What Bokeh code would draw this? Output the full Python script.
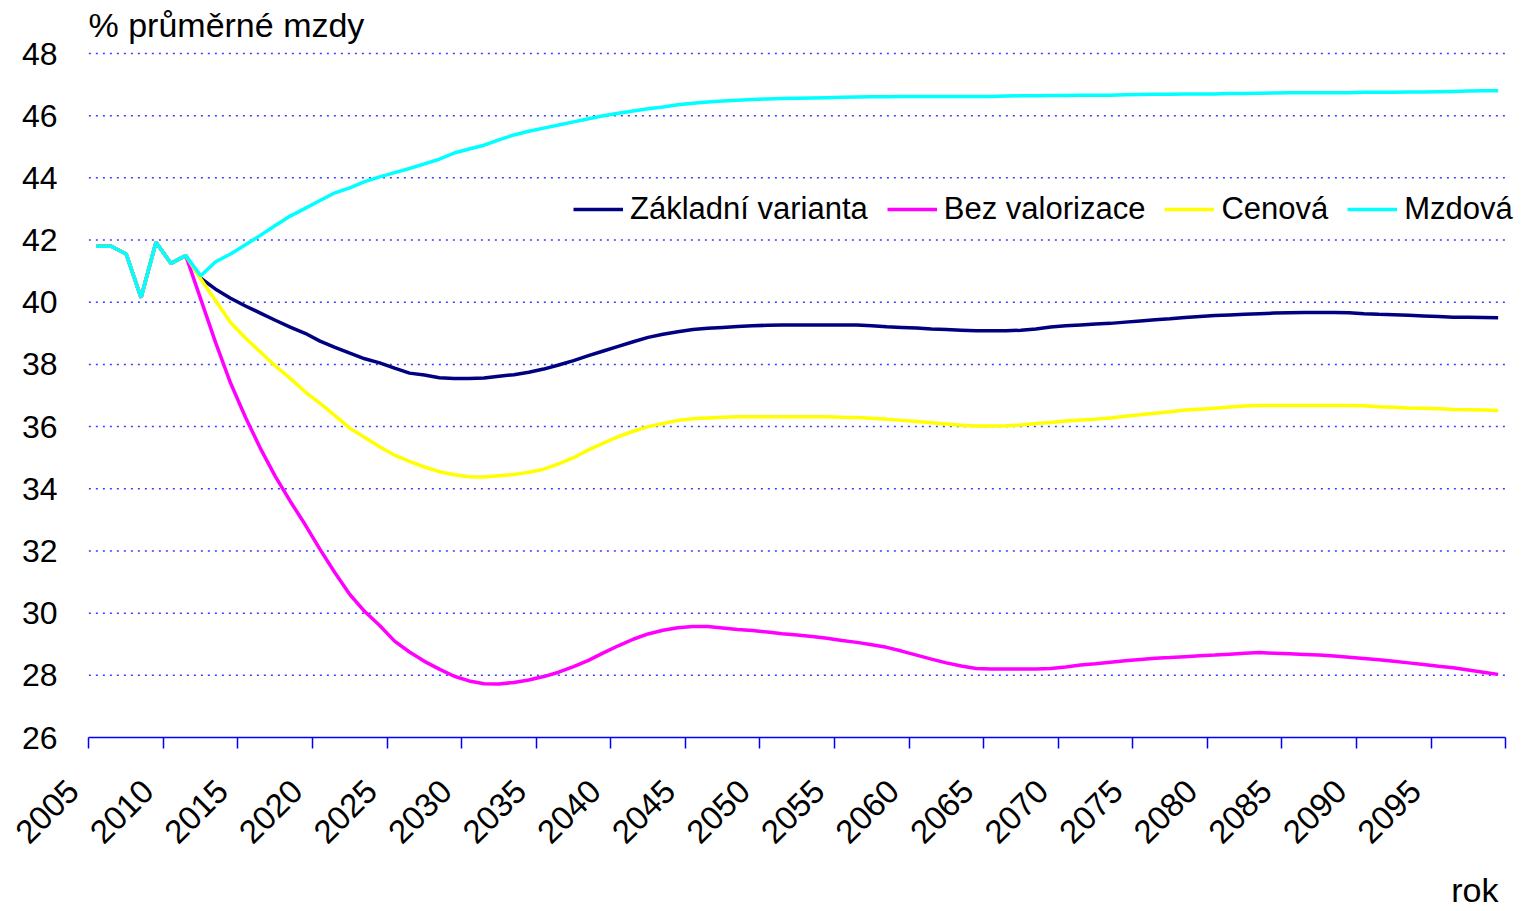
from bokeh.plotting import figure
from bokeh.models import Range1d, FixedTicker, Legend, LegendItem, LinearAxis, Title, Label
from bokeh.embed import file_html
from bokeh.resources import INLINE

years = list(range(2005, 2100))
history = [41.8, 41.8, 41.55, 40.15, 41.93, 41.25, 41.5]

zakladni = history + [
    40.77, 40.42, 40.13, 39.88, 39.65, 39.42, 39.2, 39.0, 38.75, 38.55,
    38.36, 38.18, 38.05, 37.88, 37.72, 37.66, 37.57, 37.55, 37.55, 37.56,
    37.62, 37.67, 37.75, 37.85, 37.98, 38.12, 38.28, 38.43, 38.58, 38.73,
    38.87, 38.97, 39.05, 39.12, 39.16, 39.19, 39.22, 39.24, 39.26, 39.27,
    39.27, 39.27, 39.27, 39.27, 39.27, 39.24, 39.21, 39.19, 39.17, 39.14,
    39.12, 39.1, 39.08, 39.08, 39.08, 39.1, 39.14, 39.2, 39.24, 39.27,
    39.3, 39.32, 39.36, 39.4, 39.44, 39.47, 39.51, 39.54, 39.57, 39.59,
    39.61, 39.63, 39.65, 39.66, 39.67, 39.67, 39.67, 39.66, 39.63, 39.61,
    39.6, 39.58, 39.56, 39.54, 39.52, 39.52, 39.51, 39.5]

bez_valorizace = history + [
    40.1, 38.7, 37.4, 36.3, 35.3, 34.4, 33.6, 32.85, 32.05, 31.3,
    30.6, 30.05, 29.6, 29.1, 28.75, 28.45, 28.2, 27.97, 27.82, 27.73,
    27.72, 27.77, 27.85, 27.96, 28.1, 28.28, 28.48, 28.72, 28.95, 29.16,
    29.33, 29.45, 29.53, 29.57, 29.57, 29.52, 29.47, 29.44, 29.39, 29.34,
    29.3, 29.25, 29.19, 29.12, 29.06, 28.98, 28.9, 28.78, 28.65, 28.52,
    28.4, 28.3, 28.22, 28.2, 28.2, 28.2, 28.2, 28.22, 28.27, 28.33,
    28.37, 28.42, 28.47, 28.51, 28.55, 28.57, 28.6, 28.63, 28.65, 28.68,
    28.71, 28.73, 28.71, 28.69, 28.67, 28.65, 28.62, 28.58, 28.54, 28.5,
    28.45, 28.4, 28.35, 28.29, 28.24, 28.17, 28.1, 28.03]

cenova = history + [
    40.75, 40.05, 39.35, 38.85, 38.4, 37.95, 37.55, 37.12, 36.75, 36.35,
    35.95, 35.65, 35.35, 35.08, 34.88, 34.7, 34.55, 34.45, 34.39, 34.38,
    34.42, 34.46, 34.53, 34.63, 34.8, 35.0, 35.25, 35.47, 35.68, 35.85,
    36.0, 36.1, 36.2, 36.25, 36.28, 36.3, 36.32, 36.32, 36.32, 36.32,
    36.32, 36.32, 36.32, 36.3, 36.29, 36.27, 36.24, 36.2, 36.16, 36.12,
    36.08, 36.04, 36.02, 36.02, 36.03, 36.05, 36.1, 36.13, 36.18, 36.21,
    36.24, 36.28, 36.33, 36.38, 36.43, 36.48, 36.53, 36.56, 36.59, 36.63,
    36.66, 36.68, 36.68, 36.68, 36.68, 36.68, 36.68, 36.68, 36.67, 36.64,
    36.62, 36.6, 36.59, 36.57, 36.55, 36.54, 36.53, 36.52]

mzdova = history + [
    40.85, 41.3, 41.55, 41.85, 42.15, 42.47, 42.77, 43.02, 43.27, 43.52,
    43.68, 43.88, 44.03, 44.17, 44.3, 44.45, 44.6, 44.8, 44.93, 45.05,
    45.22, 45.38, 45.5, 45.6, 45.7, 45.8, 45.9, 46.0, 46.08, 46.15,
    46.22, 46.28, 46.35, 46.4, 46.44, 46.47, 46.5, 46.52, 46.54, 46.55,
    46.56, 46.57, 46.58, 46.59, 46.6, 46.61, 46.61, 46.62, 46.62, 46.62,
    46.62, 46.62, 46.62, 46.62, 46.63, 46.64, 46.64, 46.65, 46.65, 46.66,
    46.66, 46.66, 46.67, 46.68, 46.69, 46.69, 46.7, 46.7, 46.7, 46.71,
    46.71, 46.72, 46.73, 46.74, 46.74, 46.74, 46.74, 46.74, 46.75, 46.75,
    46.75, 46.76, 46.76, 46.77, 46.78, 46.79, 46.8, 46.8]

series_names = ["Základní varianta", "Bez valorizace", "Cenová", "Mzdová"]
series_values = [zakladni, bez_valorizace, cenova, mzdova]
series_colors = ["#000080", "#FF00FF", "#FFFF00", "#00FFFF"]

y_ticks = list(range(26, 49, 2))
x_tick_labels = [str(y) for y in range(2005, 2100, 5)]
title_text = "% průměrné mzdy"
x_title_text = "rok"

FONT = "Liberation Sans"
FS = "32px"

# category axis spans 2004.5 .. 2099.5 ; frame a little wider / taller
# so the rotated labels, legend and title have room
cat_lo, cat_hi = 2004.5, 2099.5
y_lo, y_hi = 26, 48
px_per_unit = 684 / (y_hi - y_lo)
head_px = 49
p = figure(frame_width=1454, frame_height=684 + head_px, output_backend="svg",
           toolbar_location=None,
           x_range=Range1d(2003.0, 2100.5),
           y_range=Range1d(y_lo, y_hi + head_px / px_per_unit),
           min_border_left=66, min_border_right=6, min_border_top=4,
           min_border_bottom=172)
p.outline_line_color = None
p.background_fill_color = "white"
p.border_fill_color = "white"
p.xgrid.grid_line_color = None
p.ygrid.grid_line_color = None

# y axis (labels only)
p.yaxis.ticker = FixedTicker(ticks=y_ticks)
p.yaxis.axis_line_color = None
p.yaxis.major_tick_line_color = None
p.yaxis.minor_tick_line_color = None
p.yaxis.major_tick_out = 0
p.yaxis.major_tick_in = 0
p.yaxis.major_label_standoff = 9
p.yaxis.major_label_text_font = FONT
p.yaxis.major_label_text_font_size = FS
p.yaxis.major_label_text_color = "black"

# x axis: line + tick marks at category boundaries (labels drawn by 2nd axis)
x_ticks = [cat_lo + 5 * k for k in range(20)]
tick_axis = p.xaxis[0]
tick_axis.ticker = FixedTicker(ticks=x_ticks)
tick_axis.bounds = (cat_lo, cat_hi)
tick_axis.axis_line_color = "#0000FF"
tick_axis.axis_line_width = 1.5
tick_axis.major_tick_line_color = "#0000FF"
tick_axis.major_tick_line_width = 1.5
tick_axis.major_tick_out = 11
tick_axis.major_tick_in = 0
tick_axis.minor_tick_line_color = None
tick_axis.major_label_text_color = None
tick_axis.major_label_text_font_size = "1px"
tick_axis.major_label_standoff = 0

# x labels axis (rotated labels, anchored like the original)
label_shift = 1.07
label_pos = [round(x_ticks[i] - label_shift, 2) for i in range(len(x_tick_labels))]
lab_axis = LinearAxis(ticker=FixedTicker(ticks=label_pos),
                      major_label_overrides={lp: lab for lp, lab in zip(label_pos, x_tick_labels)},
                      axis_line_color=None, major_tick_line_color=None,
                      minor_tick_line_color=None, major_tick_out=0, major_tick_in=0,
                      major_label_orientation=0.785398, major_label_standoff=37,
                      major_label_text_font=FONT, major_label_text_font_size="33px",
                      major_label_text_color="black")
p.add_layout(lab_axis, "below")

# dotted horizontal grid lines over the category span
for gy in y_ticks[1:]:
    p.segment(x0=cat_lo, y0=gy, x1=cat_hi, y1=gy, line_color="#3c3cff",
              line_width=1.5, line_dash="2 5")

items = []
for name, vals, col in zip(series_names, series_values, series_colors):
    r = p.line(years, vals, line_color=col, line_width=3.5)
    items.append(LegendItem(label=name, renderers=[r]))

legend = Legend(items=items, orientation="horizontal", location=(507, 510),
                glyph_width=50, glyph_height=20, label_standoff=7, spacing=19,
                padding=0, margin=0, border_line_color=None,
                background_fill_alpha=0,
                label_text_font=FONT, label_text_font_size="31px",
                label_text_color="black")
p.add_layout(legend)

# y-axis caption at the top left of the chart
p.add_layout(Label(x=22, y=713, x_units="screen", y_units="screen",
                   text=title_text, text_font=FONT, text_font_size="34px",
                   text_baseline="middle", text_align="left", text_color="black"))

p.add_layout(Title(text=x_title_text, align="right", offset=22, standoff=24,
                   text_font=FONT, text_font_size="34px", text_font_style="normal",
                   text_color="black"), "below")

open("out.html", "w").write(file_html(p, INLINE))
